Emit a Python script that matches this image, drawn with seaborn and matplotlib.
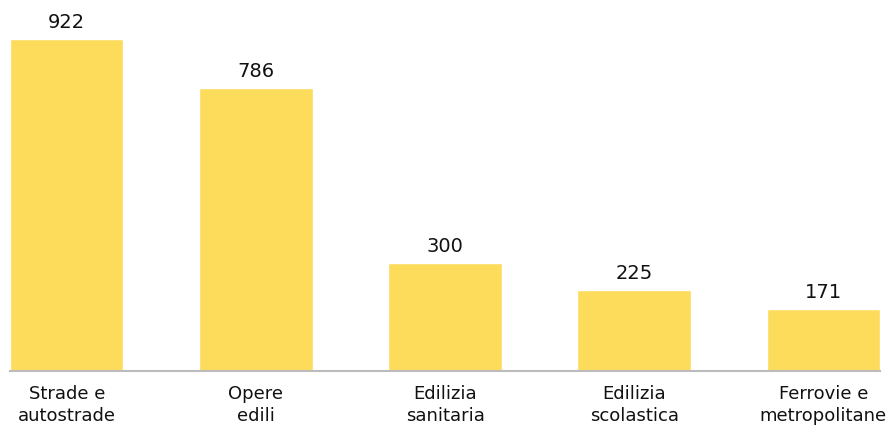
import matplotlib
matplotlib.use("Agg")
import matplotlib.pyplot as plt
import seaborn as sns
import pandas as pd

categories = ["Strade e\nautostrade", "Opere\nedili", "Edilizia\nsanitaria",
              "Edilizia\nscolastica", "Ferrovie e\nmetropolitane"]
values = [922, 786, 300, 225, 171]

df = pd.DataFrame({"categoria": categories, "valore": values})

sns.set_style("white")
plt.rcParams["font.family"] = ["DejaVu Sans"]

fig = plt.figure(figsize=(8.86, 4.32), dpi=100)
ax = fig.add_axes([10 / 886, 61 / 432, 870 / 886, 371 / 432])

sns.barplot(data=df, x="categoria", y="valore", color="#FDDC5C",
            saturation=1, width=0.6, ax=ax)

ax.bar_label(ax.containers[0], labels=[str(v) for v in values],
             padding=5, fontsize=14, color="#111111")

ax.set_xlim(-0.3, 4.3)
ax.set_ylim(0, 1030)
ax.set_xlabel("")
ax.set_ylabel("")
ax.set_yticks([])
ax.tick_params(axis="x", length=0, pad=10, labelsize=13, labelcolor="#111111")
for t in ax.get_xticklabels():
    t.set_linespacing(1.3)

sns.despine(ax=ax, left=True)
ax.spines["bottom"].set_color("#BBBBBB")
ax.spines["bottom"].set_linewidth(1.5)

fig.savefig("out.png", dpi=100)
